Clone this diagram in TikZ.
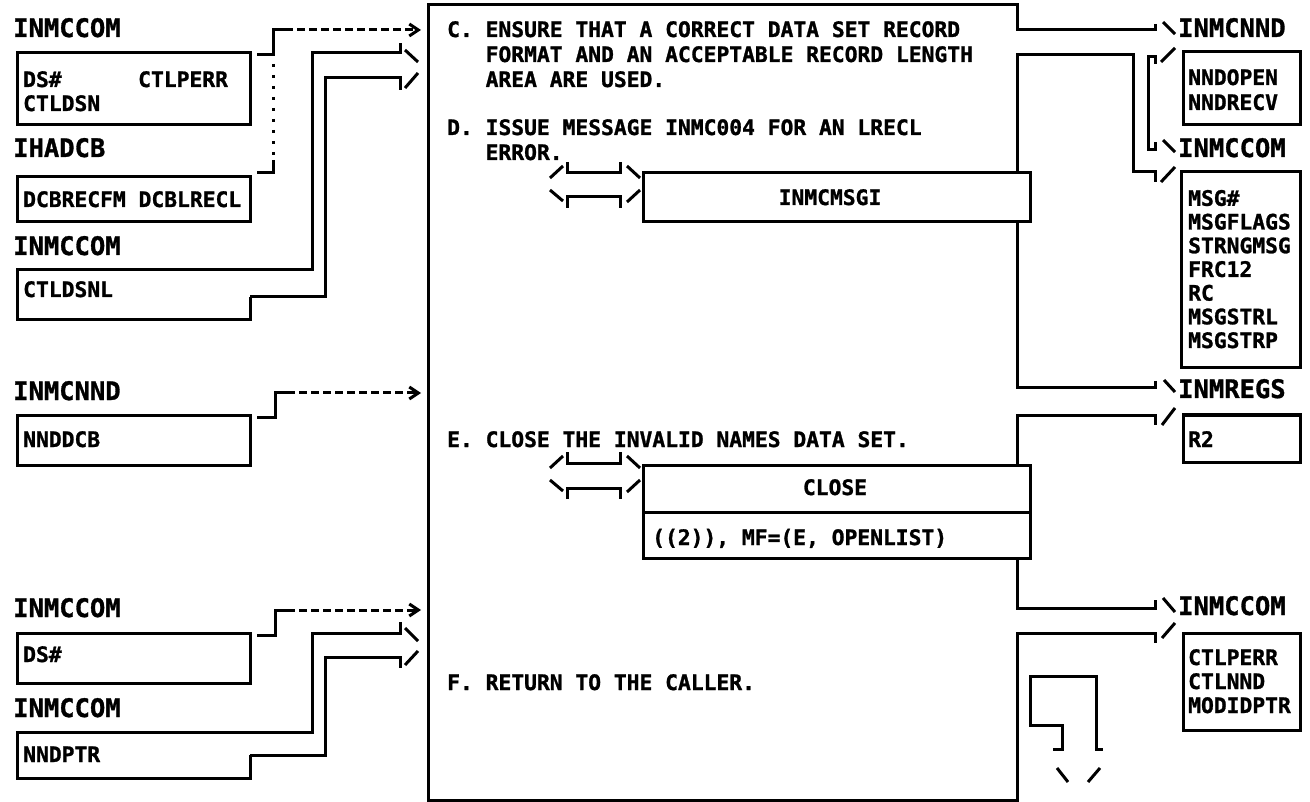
\documentclass[tikz,border=0pt]{standalone}
\usepackage{fontspec}
\setmonofont{DejaVu Sans Mono}[BoldFont={DejaVu Sans Mono Bold}, BoldFeatures={FakeBold=1.2}]
\usetikzlibrary{arrows.meta,calc}
\begin{document}
\begin{tikzpicture}[x=1pt,y=-1pt,
  ln/.style={line width=3pt, line join=miter},
  dsh/.style={ln, dash pattern=on 8pt off 4pt, -{Straight Barb[length=9pt,width=12pt,line width=3pt]}},
  dots/.style={ln, dash pattern=on 3.5pt off 7.5pt},
  box/.style={draw, line width=3pt, fill=white, anchor=north west, inner sep=0pt, outer sep=0pt},
  hdr/.style={font={\ttfamily\bfseries\fontsize{25.5}{30}\selectfont}, inner sep=0pt, anchor=base west},
  txt/.style={font={\ttfamily\bfseries\fontsize{21.3}{25}\selectfont}, inner sep=0pt, anchor=base west, align=left},
  txtb/.style={txt, font={\ttfamily\bfseries\fontsize{21.3}{23.7}\selectfont}},
  txtc/.style={txt, font={\ttfamily\bfseries\fontsize{21.3}{24}\selectfont}},
  ]
\useasboundingbox (0,0) rectangle (1310,802);
\fill[white] (0,0) rectangle (1310,802);

% main process box (outline drawn with gaps for outputs)
\node[box, draw=none, fill=none, minimum width=589, minimum height=795] (main) at (428,5) {};
\draw[ln] (1155,24) -- (1155,30) -- (1017,30) -- (main.north east) -- (main.north west) -- (main.south west) -- (main.south east) -- (1017,633) -- (1155,633) -- (1155,643);
\draw[ln] (1155,600) -- (1155,608) -- (1017,608) -- (1017,415) -- (1155,415) -- (1155,425);
\draw[ln] (1155,381) -- (1155,388) -- (1017,388) -- (1017,55) -- (1133,55) -- (1133,172) -- (1155,172) -- (1155,182);
\draw[ln] (1155,64) -- (1155,57) -- (1148,57) -- (1148,150) -- (1155,150) -- (1155,142);
% right wide-arrow heads
\draw[ln] (1163,22) -- (1175,34);
\draw[ln] (1161,62) -- (1175,48);
\draw[ln] (1163,140) -- (1175,152);
\draw[ln] (1161,182) -- (1175,167);
\draw[ln] (1164,380) -- (1175,392);
\draw[ln] (1162,425) -- (1175,408);
\draw[ln] (1163,598) -- (1175,612);
\draw[ln] (1162,638) -- (1175,623);

% ---------- left inputs ----------
\node[hdr] (hA) at (13,37) {INMCCOM};
\node[box, minimum width=233, minimum height=72] (b1) at (17,53) {};
\node[txt] (t1a) at (23,87) {DS\#};
\node[txt] (t1b) at (138,87) {CTLPERR};
\node[txt] (t1c) at (23,111) {CTLDSN};
\node[hdr] (hB) at (13,157) {IHADCB};
\node[box, minimum width=233, minimum height=45] (b2) at (17,177) {};
\node[txt] (t2) at (23,207) {DCBRECFM DCBLRECL};
\node[hdr] (hC) at (13,255) {INMCCOM};
\node[box, draw=none, minimum width=233, minimum height=50] (b3) at (17,270) {};
\node[txt] (t3) at (23,297) {CTLDSNL};

\coordinate (j1) at (273,55);
\coordinate (j1t) at (273,30);
\draw[ln] (257,55) -- (j1) -- (j1t) -- (285,30);
\draw[dsh] (285,30) -- (421,30);
\draw[dots] (273,64) -- (273,160);
\draw[ln] (273,160) -- (273,173) -- (257,173);

\draw[ln] (250,297) -- (b3.south east) -- (b3.south west) -- (b3.north west) -- (312,270) -- (312,53) -- (400,53) -- (400,43);
\draw[ln] (405,50) -- (418,62);
\draw[ln] (250,297) -- (325,297) -- (325,78) -- (400,78) -- (400,90);
\draw[ln] (405,88) -- (418,73);

\node[hdr] (hD) at (13,400) {INMCNND};
\node[box, minimum width=233, minimum height=50] (b4) at (17,415) {};
\node[txt] (t4) at (23,447) {NNDDCB};
\draw[ln] (257,417) -- (275,417) -- (275,393) -- (287,393);
\draw[dsh] (287,393) -- (421,393);

\node[hdr] (hE) at (13,617) {INMCCOM};
\node[box, minimum width=233, minimum height=50] (b5) at (17,633) {};
\node[txt] (t5) at (23,662) {DS\#};
\draw[ln] (257,635) -- (275,635) -- (275,610) -- (287,610);
\draw[dsh] (287,610) -- (421,610);

\node[hdr] (hF) at (13,717) {INMCCOM};
\node[box, draw=none, minimum width=233, minimum height=46] (b6) at (17,732) {};
\node[txt] (t6) at (23,762) {NNDPTR};
\draw[ln] (250,755) -- (b6.south east) -- (b6.south west) -- (b6.north west) -- (312,732) -- (312,633) -- (400,633) -- (400,622);
\draw[ln] (405,628) -- (418,641);
\draw[ln] (250,755) -- (325,755) -- (325,657) -- (400,657) -- (400,668);
\draw[ln] (405,665) -- (418,651);

% ---------- process text ----------
\node[txt] (sC) at (447,87) {C. ENSURE THAT A CORRECT DATA SET RECORD\\\hphantom{C. }FORMAT AND AN ACCEPTABLE RECORD LENGTH\\\hphantom{C. }AREA ARE USED.};
\node[txt] (sD) at (447,160) {D. ISSUE MESSAGE INMC004 FOR AN LRECL\\\hphantom{D. }ERROR.};
\node[txt] (sE) at (447,447) {E. CLOSE THE INVALID NAMES DATA SET.};
\node[txt] (sF) at (447,690) {F. RETURN TO THE CALLER.};

% INMCMSGI call
\draw[ln] (550,178) -- (563,166);
\draw[ln] (567,162) -- (567,173) -- (620,173) -- (620,162);
\draw[ln] (627,166) -- (640,178);
\draw[ln] (550,190) -- (563,201);
\draw[ln] (567,208) -- (567,197) -- (620,197) -- (620,208);
\draw[ln] (627,202) -- (640,190);
\node[box, minimum width=387, minimum height=49] (msgi) at (643,173) {};
\node[txt, anchor=base] (tmsgi) at (830,205) {INMCMSGI};

% CLOSE call
\draw[ln] (550,468) -- (563,456);
\draw[ln] (567,452) -- (567,463) -- (620,463) -- (620,452);
\draw[ln] (627,456) -- (640,468);
\draw[ln] (550,480) -- (563,491);
\draw[ln] (567,499) -- (567,488) -- (620,488) -- (620,499);
\draw[ln] (627,492) -- (640,480);
\node[box, minimum width=387, minimum height=93] (cls) at (643,465) {};
\draw[ln] ($(cls.north west)+(0,47)$) -- ($(cls.north east)+(0,47)$);
\node[txt, anchor=base] (tcls) at (835,495) {CLOSE};
\node[txt] (tcls2) at (652,545) {((2)), MF=(E, OPENLIST)};

% return symbol
\draw[ln] (1053,749) -- (1062,749) -- (1062,725) -- (1030,725) -- (1030,676) -- (1096,676) -- (1096,749) -- (1103,749);
\draw[ln] (1057,768) -- (1068,782);
\draw[ln] (1100,768) -- (1088,782);

% ---------- right outputs ----------
\node[hdr] (hR1) at (1178,37) {INMCNND};
\node[box, minimum width=117, minimum height=73] (r1) at (1183,52) {};
\node[txt] (tr1) at (1188,110) {NNDOPEN\\NNDRECV};
\node[hdr] (hR2) at (1178,157) {INMCCOM};
\node[box, minimum width=119, minimum height=196] (r2) at (1181,172) {};
\node[txtb] (tr2) at (1188,348) {MSG\#\\MSGFLAGS\\STRNGMSG\\FRC12\\RC\\MSGSTRL\\MSGSTRP};
\node[hdr] (hR3) at (1178,398) {INMREGS};
\node[box, minimum width=117, minimum height=47] (r3) at (1183,415) {};
\node[txt] (tr3) at (1188,447) {R2};
\node[hdr] (hR4) at (1178,615) {INMCCOM};
\node[box, minimum width=117, minimum height=97] (r4) at (1183,633) {};
\node[txtc] (tr4) at (1188,713) {CTLPERR\\CTLNND\\MODIDPTR};
\end{tikzpicture}
\end{document}
